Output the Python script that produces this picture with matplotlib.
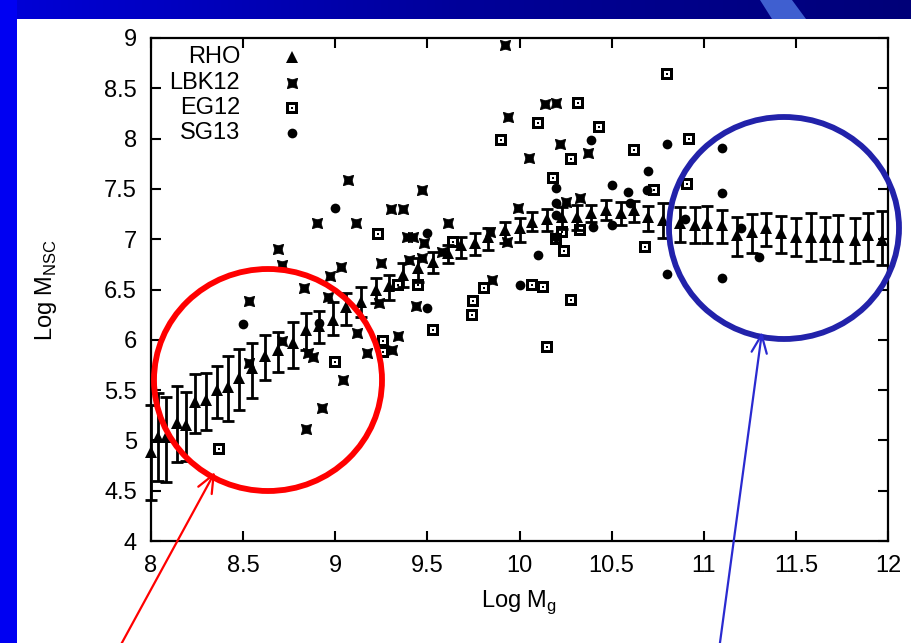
import numpy as np
import matplotlib
matplotlib.use("Agg")
import matplotlib.pyplot as plt
from matplotlib.path import Path
from matplotlib.patches import Ellipse, Rectangle, Polygon
from matplotlib.colors import LinearSegmentedColormap

# ---------------------------------------------------------------- data
# RHO: binned relation with error bars (lower / upper limits)
rho_x = [8.00, 8.04, 8.08, 8.14, 8.19, 8.24, 8.30, 8.36, 8.42, 8.48,
         8.55, 8.62, 8.69, 8.77, 8.84, 8.91, 8.99, 9.06, 9.14, 9.22,
         9.29, 9.37, 9.45, 9.53, 9.61, 9.68, 9.76, 9.83, 9.92, 10.00,
         10.07, 10.15, 10.23, 10.31, 10.39, 10.47, 10.55, 10.62, 10.70, 10.78,
         10.87, 10.95, 11.02, 11.10, 11.18, 11.26, 11.34, 11.42, 11.50, 11.58,
         11.66, 11.73, 11.82, 11.89, 11.97]
rho_y = [4.88, 5.03, 5.03, 5.17, 5.15, 5.38, 5.40, 5.50, 5.53, 5.62,
         5.72, 5.84, 5.90, 5.97, 6.10, 6.14, 6.20, 6.33, 6.38, 6.50,
         6.53, 6.64, 6.71, 6.77, 6.86, 6.94, 6.96, 7.02, 7.09, 7.11,
         7.17, 7.20, 7.22, 7.22, 7.26, 7.29, 7.26, 7.29, 7.22, 7.19,
         7.16, 7.14, 7.16, 7.14, 7.04, 7.07, 7.11, 7.06, 7.02, 7.02,
         7.02, 7.02, 6.99, 7.04, 6.99]
rho_lo = [4.41, 4.60, 4.59, 4.79, 4.80, 5.07, 5.10, 5.22, 5.19, 5.30,
          5.42, 5.60, 5.68, 5.72, 5.90, 5.97, 6.05, 6.15, 6.23, 6.37,
          6.40, 6.52, 6.57, 6.66, 6.76, 6.81, 6.84, 6.89, 6.96, 6.97,
          7.08, 7.08, 7.10, 7.09, 7.17, 7.19, 7.14, 7.17, 7.08, 7.01,
          6.97, 6.96, 6.96, 6.96, 6.83, 6.86, 6.93, 6.86, 6.83, 6.78,
          6.80, 6.78, 6.76, 6.78, 6.74]
rho_hi = [5.35, 5.47, 5.43, 5.54, 5.48, 5.66, 5.67, 5.74, 5.84, 5.91,
          5.97, 6.05, 6.08, 6.18, 6.27, 6.29, 6.38, 6.47, 6.52, 6.61,
          6.64, 6.76, 6.81, 6.87, 6.94, 7.02, 7.06, 7.11, 7.17, 7.21,
          7.27, 7.30, 7.32, 7.34, 7.34, 7.39, 7.37, 7.38, 7.33, 7.36,
          7.32, 7.32, 7.33, 7.29, 7.22, 7.25, 7.26, 7.23, 7.21, 7.26,
          7.22, 7.24, 7.21, 7.26, 7.28]

# LBK12 galaxies
lbk12_x = [8.53, 8.69, 8.71, 8.90, 9.07, 9.11, 9.30, 9.37, 9.47, 9.61,
           9.39, 9.42, 9.48, 9.58, 9.03, 8.97, 9.25, 8.83, 8.96, 9.24,
           9.44, 9.40, 9.47, 9.12, 9.34, 9.31, 8.71, 8.85, 8.88, 8.53,
           9.17, 9.04, 8.93, 8.84, 9.92, 10.14, 10.20, 9.94, 10.22, 10.05,
           10.37, 9.99, 10.25, 10.33, 9.84, 9.93, 9.85]
lbk12_y = [6.39, 6.90, 6.74, 7.16, 7.59, 7.16, 7.30, 7.30, 7.49, 7.16,
           7.02, 7.02, 6.96, 6.87, 6.72, 6.63, 6.76, 6.51, 6.43, 6.37,
           6.34, 6.79, 6.81, 6.07, 6.04, 5.90, 5.99, 5.87, 5.83, 5.77,
           5.87, 5.60, 5.32, 5.11, 8.93, 8.34, 8.35, 8.21, 7.95, 7.81,
           7.86, 7.31, 7.37, 7.41, 7.07, 6.97, 6.59]

# EG12 galaxies
eg12_x = [8.37, 9.00, 9.26, 9.26, 9.23, 9.34, 9.45, 9.64, 9.81, 9.75,
          9.74, 9.53, 10.07, 10.13, 10.28, 10.15, 10.24, 10.23, 10.33, 10.68,
          10.32, 10.10, 10.43, 9.90, 10.28, 10.18, 10.62, 10.73, 10.92, 10.91,
          10.80, 10.20]
eg12_y = [4.91, 5.78, 5.99, 5.88, 7.05, 6.54, 6.54, 6.97, 6.51, 6.39,
          6.25, 6.10, 6.54, 6.52, 6.40, 5.93, 6.88, 7.07, 7.09, 6.92,
          8.35, 8.16, 8.12, 7.99, 7.80, 7.61, 7.89, 7.49, 8.00, 7.55,
          8.64, 7.00]

# SG13 galaxies
sg13_x = [8.50, 8.91, 9.00, 9.50, 9.50, 10.00, 10.10, 10.20, 10.20, 10.20,
          10.20, 10.39, 10.40, 10.50, 10.50, 10.59, 10.60, 10.69, 10.70, 10.80,
          10.80, 10.90, 11.10, 11.10, 11.10, 11.20, 11.30]
sg13_y = [6.16, 6.17, 7.31, 7.06, 6.32, 6.54, 6.84, 7.51, 7.36, 7.24,
          7.02, 7.99, 7.12, 7.54, 7.14, 7.47, 7.36, 7.49, 7.68, 7.95,
          6.65, 7.20, 7.91, 7.46, 6.61, 7.11, 6.82]

series_labels = ["RHO", "LBK12", "EG12", "SG13"]
x_ticks = [8, 8.5, 9, 9.5, 10, 10.5, 11, 11.5, 12]
x_tick_labels = ["8", "8.5", "9", "9.5", "10", "10.5", "11", "11.5", "12"]
y_ticks = [4, 4.5, 5, 5.5, 6, 6.5, 7, 7.5, 8, 8.5, 9]
y_tick_labels = ["4", "4.5", "5", "5.5", "6", "6.5", "7", "7.5", "8", "8.5", "9"]
x_label = "Log M$_\\mathregular{g}$"
y_label = "Log M$_\\mathregular{NSC}$"

# ---------------------------------------------------------------- style
plt.rcParams["font.family"] = ["Liberation Sans", "DejaVu Sans"]
FS = 17
W, H = 912, 643

_codes = [Path.MOVETO, Path.LINETO, Path.LINETO, Path.LINETO, Path.CLOSEPOLY]

# square-with-dot marker: outer square, square hole, centre dot
_sq = [(-1, -1), (1, -1), (1, 1), (-1, 1), (-1, -1)]
_hole = [(-0.55, -0.55), (-0.55, 0.55), (0.55, 0.55), (0.55, -0.55), (-0.55, -0.55)]
_dot = [(-0.2, -0.2), (0.2, -0.2), (0.2, 0.2), (-0.2, 0.2), (-0.2, -0.2)]
sq_dot = Path(_sq + _hole + _dot, _codes * 3)

# heavy asterisk: a square with a shallow V notch in the middle of each side
_n = 0.72
_star = [(-1, -1), (0, -_n), (1, -1), (_n, 0), (1, 1), (0, _n), (-1, 1),
         (-_n, 0), (-1, -1)]
star_sq = Path(_star, [Path.MOVETO] + [Path.LINETO] * 7 + [Path.CLOSEPOLY])

styles = {
    "RHO": dict(marker="^", ms=8.5, mfc="black", mec="black", mew=0),
    "LBK12": dict(marker=star_sq, ms=7.5, mfc="black", mec="black", mew=0.5),
    "EG12": dict(marker=sq_dot, ms=8.5, mfc="black", mec="none", mew=0),
    "SG13": dict(marker="o", ms=7, mfc="black", mec="black", mew=0),
}

fig = plt.figure(figsize=(W / 100, H / 100), dpi=100)
fig.patch.set_facecolor("white")

# slide background: blue side bar and gradient title band
bg = fig.add_axes([0, 0, 1, 1], zorder=-10)
bg.axis("off")
band = LinearSegmentedColormap.from_list("band", ["#0000d8", "#00009a", "#000078"])
grad = np.linspace(0, 1, 256).reshape(1, -1)
bg.imshow(grad, cmap=band, extent=(0, W, 19, 0), aspect="auto", zorder=1)
bg.add_patch(Polygon([(760, 0), (792, 0), (806, 19), (772, 19)],
                     closed=True, facecolor="#3f5fd0", edgecolor="none", zorder=2))
bg.add_patch(Rectangle((0, 0), 17, H, facecolor="#0000f2", edgecolor="none", zorder=3))
bg.set_xlim(0, W)
bg.set_ylim(H, 0)

# main plot
ax = fig.add_axes([151 / W, 102 / H, 737 / W, 503 / H])
ax.set_facecolor("white")
ax.errorbar(rho_x, rho_y,
            yerr=[np.subtract(rho_y, rho_lo), np.subtract(rho_hi, rho_y)],
            fmt="none", ecolor="black", elinewidth=2.0, capsize=4.5,
            capthick=2.0, clip_on=False, zorder=3)
ax.plot(rho_x, rho_y, ls="none", clip_on=False, zorder=4, **styles["RHO"])
ax.plot(lbk12_x, lbk12_y, ls="none", zorder=5, **styles["LBK12"])
ax.plot(eg12_x, eg12_y, ls="none", zorder=5, **styles["EG12"])
ax.plot(sg13_x, sg13_y, ls="none", zorder=5, **styles["SG13"])

ax.set_xlim(8, 12)
ax.set_ylim(4, 9)
ax.set_xticks(x_ticks, x_tick_labels)
ax.set_yticks(y_ticks, y_tick_labels)
ax.tick_params(direction="in", length=7, width=1.5, top=True, right=True,
               labelsize=FS, pad=10, colors="black")
for s in ax.spines.values():
    s.set_linewidth(1.6)

ax.set_xlabel(x_label, fontsize=FS)
ax.xaxis.set_label_coords(0.5, -0.095)
ax.set_ylabel(y_label, fontsize=FS)
ax.yaxis.set_label_coords(-0.125, 0.5)

# key in the upper-left corner: right-aligned text, symbol to its right
key_rows = [0.962, 0.9105, 0.861, 0.811]
for lab, yk in zip(series_labels, key_rows):
    ax.text(0.121, yk, lab, transform=ax.transAxes, ha="right", va="center",
            fontsize=FS)
    ax.plot([0.1913], [yk], transform=ax.transAxes, ls="none", clip_on=False,
            **styles[lab])

# highlighted regions and pointers
ov = fig.add_axes([0, 0, 1, 1], zorder=20)
ov.set_xlim(0, W)
ov.set_ylim(H, 0)
ov.axis("off")
ov.patch.set_alpha(0)
ov.add_patch(Ellipse((268, 380), 228, 222, fill=False, edgecolor="#ff0000",
                     linewidth=4.2))
ov.add_patch(Ellipse((784, 228), 230, 222, fill=False, edgecolor="#2222aa",
                     linewidth=4.2))
ov.annotate("", xy=(215, 472), xytext=(118, 650),
            arrowprops=dict(arrowstyle="->,head_length=1.3,head_width=0.55",
                            color="#ff0000", lw=1.6, shrinkA=0, shrinkB=0))
ov.annotate("", xy=(762, 332), xytext=(719, 650),
            arrowprops=dict(arrowstyle="->,head_length=1.3,head_width=0.55",
                            color="#2a2ad0", lw=1.6, shrinkA=0, shrinkB=0))

fig.savefig("out.png", dpi=100)
